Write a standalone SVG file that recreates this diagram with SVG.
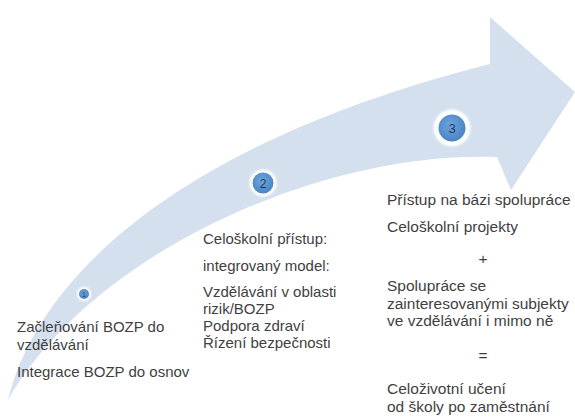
<svg xmlns="http://www.w3.org/2000/svg" width="575" height="420" viewBox="0 0 575 420">
<defs>
<radialGradient id="dot" cx="45%" cy="40%" r="60%">
<stop offset="0" stop-color="#6ea6db"/>
<stop offset="1" stop-color="#4a84c4"/>
</radialGradient>
<filter id="glow" x="-50%" y="-50%" width="200%" height="200%">
<feGaussianBlur stdDeviation="1.2"/>
</filter>
</defs>
<style>
.t{font-family:"Liberation Sans",Arial,sans-serif;font-size:15px;fill:#3f3f3f}
.b3{font-size:15.5px}
.n{font-family:"Liberation Sans",Arial,sans-serif;fill:#1f3a60;text-anchor:middle}
.halo{fill:#ffffff}
.dot{fill:url(#dot)}
</style>
<rect width="575" height="420" fill="#ffffff"/>
<g id="arrow">
<path d="M8,400 C40,270 190,140 490,64 L490,17 L575,92 L511,190 L497,157 C320,150 90,255 8,400 Z" fill="#d5e0ee"/>
</g>
<g id="step1">
<circle cx="84" cy="294" r="7" class="halo" filter="url(#glow)"/>
<circle cx="84" cy="294" r="5" class="dot"/>
<text x="84" y="296.5" class="n" font-size="7">1</text>
</g>
<g id="step2">
<circle cx="263" cy="183" r="13.5" class="halo" filter="url(#glow)"/>
<circle cx="263" cy="183" r="10.5" class="dot"/>
<text x="263" y="187.5" class="n" font-size="12">2</text>
</g>
<g id="step3">
<circle cx="452" cy="128" r="18.5" class="halo" filter="url(#glow)"/>
<circle cx="452" cy="128" r="13.5" class="dot"/>
<text x="452" y="133" class="n" font-size="13">3</text>
</g>
<g id="text1">
<text class="t" x="17" y="332">Začleňování BOZP do</text>
<text class="t" x="17" y="350">vzdělávání</text>
<text class="t" x="17" y="377">Integrace BOZP do osnov</text>
</g>
<g id="text2">
<text class="t" x="203" y="244">Celoškolní přístup:</text>
<text class="t" x="203" y="271">integrovaný model:</text>
<text class="t" x="203" y="297">Vzdělávání v oblasti</text>
<text class="t" x="203" y="314">rizik/BOZP</text>
<text class="t" x="203" y="331">Podpora zdraví</text>
<text class="t" x="203" y="348">Řízení bezpečnosti</text>
</g>
<g id="text3">
<text class="t b3" x="387" y="205">Přístup na bázi spolupráce</text>
<text class="t b3" x="387" y="232">Celoškolní projekty</text>
<text class="t b3" x="483" y="264" text-anchor="middle">+</text>
<text class="t b3" x="387" y="291">Spolupráce se</text>
<text class="t b3" x="387" y="308.5">zainteresovanými subjekty</text>
<text class="t b3" x="387" y="326">ve vzdělávání i mimo ně</text>
<text class="t b3" x="483" y="361" text-anchor="middle">=</text>
<text class="t b3" x="387" y="394">Celoživotní učení</text>
<text class="t b3" x="387" y="412">od školy po zaměstnání</text>
</g>
</svg>
